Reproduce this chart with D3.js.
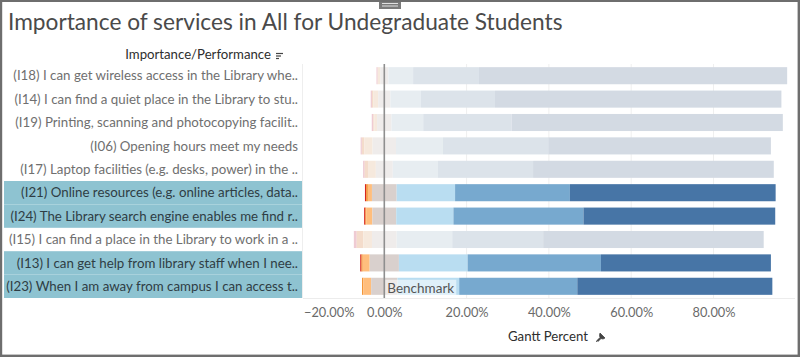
<!DOCTYPE html>
<html>
<head>
<meta charset="utf-8">
<script src="https://cdn.jsdelivr.net/npm/d3@7/dist/d3.min.js"></script>
<style>
  body { margin: 0; background: #fff; }
  svg { display: block; font-family: Lato, "Noto Sans", sans-serif; }
</style>
</head>
<body>
<svg id="chart" width="800" height="357"></svg>
<script>
// ---------------- DATA ----------------
const categories = [
  "(I18) I can get wireless access in the Library whe..",
  "(I14) I can find a quiet place in the Library to stu..",
  "(I19) Printing, scanning and photocopying facilit..",
  "(I06) Opening hours meet my needs",
  "(I17) Laptop facilities (e.g. desks, power) in the ..",
  "(I21) Online resources (e.g. online articles, data..",
  "(I24) The Library search engine enables me find r..",
  "(I15) I can find a place in the Library to work in a ..",
  "(I13) I can get help from library staff when I nee..",
  "(I23) When I am away from campus I can access t.."
];
const highlighted = [false, false, false, false, false, true, true, false, true, true];

// response levels (percent of responses), negative -> positive
const level1 = [0.3, 0.3, 0.4, 0.3, 0.4, 0.3, 0.3, 0.7, 0.3, 0.0];
const level2 = [0.0, 0.3, 0.2, 0.6, 0.8, 0.4, 0.2, 1.6, 0.3, 0.3];
const level3 = [0.6, 1.2, 0.7, 2.0, 1.9, 1.0, 1.5, 2.1, 1.7, 1.9];
const level4 = [2.0, 3.0, 3.5, 5.7, 4.1, 6.0, 5.8, 6.0, 7.1, 6.4];   // neutral
const level5 = [6.0, 7.4, 7.7, 11.4, 11.0, 14.2, 13.9, 13.5, 16.7, 15.0];
const level6 = [16.0, 18.0, 21.5, 25.6, 23.1, 27.9, 31.6, 22.1, 32.4, 28.7];
const level7 = [74.9, 69.6, 65.9, 54.1, 58.5, 50.0, 46.6, 53.6, 41.3, 47.4];

const tickValues = [-20, 0, 20, 40, 60, 80];
const benchmarkValue = 0;

// ---------------- STYLES ----------------
const fullColors  = ["#d7261e", "#f28e2b", "#ffbe7d", "#d9d0cd", "#b9ddf1", "#77a9cf", "#4775a6"];
const fadedColors = ["#efcbd3", "#f4dccb", "#f6e9dd", "#efeceb", "#e7edf1", "#dce3ea", "#d3dae3"];
const teal = "#8ec3d1";

// ---------------- BUILD ----------------
const levels = [level1, level2, level3, level4, level5, level6, level7];
const rows = categories.map((c, i) => {
  const vals = levels.map(l => l[i]);
  let start = -(vals[0] + vals[1] + vals[2] + vals[3] / 2);
  const segs = vals.map((v, k) => {
    const s = { x0: start, x1: start + v, k };
    start += v;
    return s;
  });
  return { cat: c, hi: highlighted[i], segs };
});

const svg = d3.select("#chart");

const plotTop = 64, plotBottom = 298;
const x = d3.scaleLinear().domain([-20, 100]).range([302, 795.8]);
const rowY = d3.scaleBand().domain(categories).range([plotTop, plotBottom]);
const barY = d3.scaleBand().domain(categories).range([plotTop, plotBottom])
  .paddingInner(0.27).paddingOuter(0.135);

// Title
svg.append("text")
  .attr("x", 8).attr("y", 30)
  .attr("font-size", 22.7)
  .attr("fill", "#4a4a4a")
  .text("Importance of services in All for Undegraduate Students");

// small container handle at top
svg.append("rect").attr("x", 379).attr("y", 0).attr("width", 22).attr("height", 9).attr("fill", "#7a7a7a");
[3.5, 6].forEach(yy => svg.append("line").attr("x1", 382).attr("x2", 398).attr("y1", yy).attr("y2", yy)
  .attr("stroke", "#e0e0e0").attr("stroke-width", 1));

// Row header
svg.append("text")
  .attr("x", 271).attr("y", 59)
  .attr("text-anchor", "end")
  .attr("font-size", 13.2)
  .attr("fill", "#2e2e2e")
  .text("Importance/Performance");
const sortIcon = svg.append("g").attr("stroke", "#444").attr("stroke-width", 1.2);
[[53.5, 7], [56, 5], [58.5, 3]].forEach(([yy, w]) =>
  sortIcon.append("line").attr("x1", 276).attr("x2", 276 + w).attr("y1", yy).attr("y2", yy));

// Label column backgrounds
svg.append("g").selectAll("rect")
  .data(rows.filter(r => r.hi))
  .join("rect")
  .attr("x", 4).attr("width", 298)
  .attr("y", d => rowY(d.cat))
  .attr("height", rowY.bandwidth())
  .attr("fill", teal);

// faint separator of label column
svg.append("line").attr("x1", 302.5).attr("x2", 302.5).attr("y1", plotTop).attr("y2", plotBottom)
  .attr("stroke", "#eeeeee");

// Labels
svg.append("g").selectAll("text")
  .data(rows)
  .join("text")
  .attr("x", 298)
  .attr("y", d => rowY(d.cat) + rowY.bandwidth() / 2)
  .attr("dy", "0.36em")
  .attr("text-anchor", "end")
  .attr("font-size", 13.3)
  .attr("fill", d => d.hi ? "#2f3d44" : "#6f6f6f")
  .text(d => d.cat);

// Gridlines
svg.append("g").selectAll("line")
  .data(tickValues.filter(t => t > 0))
  .join("line")
  .attr("x1", d => x(d)).attr("x2", d => x(d))
  .attr("y1", plotTop).attr("y2", plotBottom)
  .attr("stroke", "#efefef").attr("stroke-width", 1);

// bottom line of pane
svg.append("line").attr("x1", 303).attr("x2", 795).attr("y1", plotBottom + 0.5).attr("y2", plotBottom + 0.5)
  .attr("stroke", "#ececec");

// Bars
const barG = svg.append("g").selectAll("g")
  .data(rows)
  .join("g");
barG.selectAll("rect")
  .data(d => d.segs.filter(s => s.x1 > s.x0).map(s => ({ ...s, cat: d.cat, hi: d.hi })))
  .join("rect")
  .attr("x", d => x(d.x0))
  .attr("width", d => x(d.x1) - x(d.x0))
  .attr("y", d => barY(d.cat))
  .attr("height", barY.bandwidth())
  .attr("fill", d => d.hi ? fullColors[d.k] : fadedColors[d.k]);

// Benchmark line
svg.append("line")
  .attr("x1", x(benchmarkValue)).attr("x2", x(benchmarkValue))
  .attr("y1", plotTop).attr("y2", plotBottom)
  .attr("stroke", "#8f8f8f").attr("stroke-width", 1.6);

// Benchmark label
const lastCat = categories[categories.length - 1];
svg.append("rect")
  .attr("x", x(benchmarkValue) + 1).attr("y", barY(lastCat) + 2)
  .attr("width", 71).attr("height", barY.bandwidth() - 1)
  .attr("fill", "#ffffff").attr("fill-opacity", 0.55);
svg.append("text")
  .attr("x", x(benchmarkValue) + 3)
  .attr("y", barY(lastCat) + barY.bandwidth() / 2 + 2)
  .attr("dy", "0.36em")
  .attr("font-size", 13.5)
  .attr("fill", "#555")
  .text("Benchmark");

// Axis
const axis = d3.axisBottom(x)
  .tickValues(tickValues)
  .tickSize(0)
  .tickPadding(0)
  .tickFormat(d => d3.format(".2f")(d) + "%");
const axG = svg.append("g").attr("transform", `translate(0, 305)`).call(axis);
axG.select(".domain").remove();
axG.selectAll("text")
  .attr("font-family", "Lato, 'Noto Sans', sans-serif")
  .attr("font-size", 12.8)
  .attr("fill", "#6a6a6a")
  .attr("dy", "0.95em");
axG.selectAll(".tick").filter(d => d === -20).select("text")
  .attr("text-anchor", "start").attr("x", 1.5);

// Axis title
svg.append("text")
  .attr("x", 548).attr("y", 341)
  .attr("text-anchor", "middle")
  .attr("font-size", 13.2)
  .attr("fill", "#2e2e2e")
  .text("Gantt Percent");
// pin icon
svg.append("path")
  .attr("d", "M600,333 l5,5 l-2,1 l-2,-0.5 l-3,3 l-1,-1 l3,-3 l-0.5,-2 z M596,342 l2.5,-2.5")
  .attr("fill", "#444").attr("stroke", "#444").attr("stroke-width", 0.8);

// Outer frame
svg.append("rect")
  .attr("x", 1).attr("y", 0.8).attr("width", 797.8).attr("height", 355)
  .attr("fill", "none").attr("stroke", "#6e6e6e").attr("stroke-width", 2.4);
</script>
</body>
</html>
